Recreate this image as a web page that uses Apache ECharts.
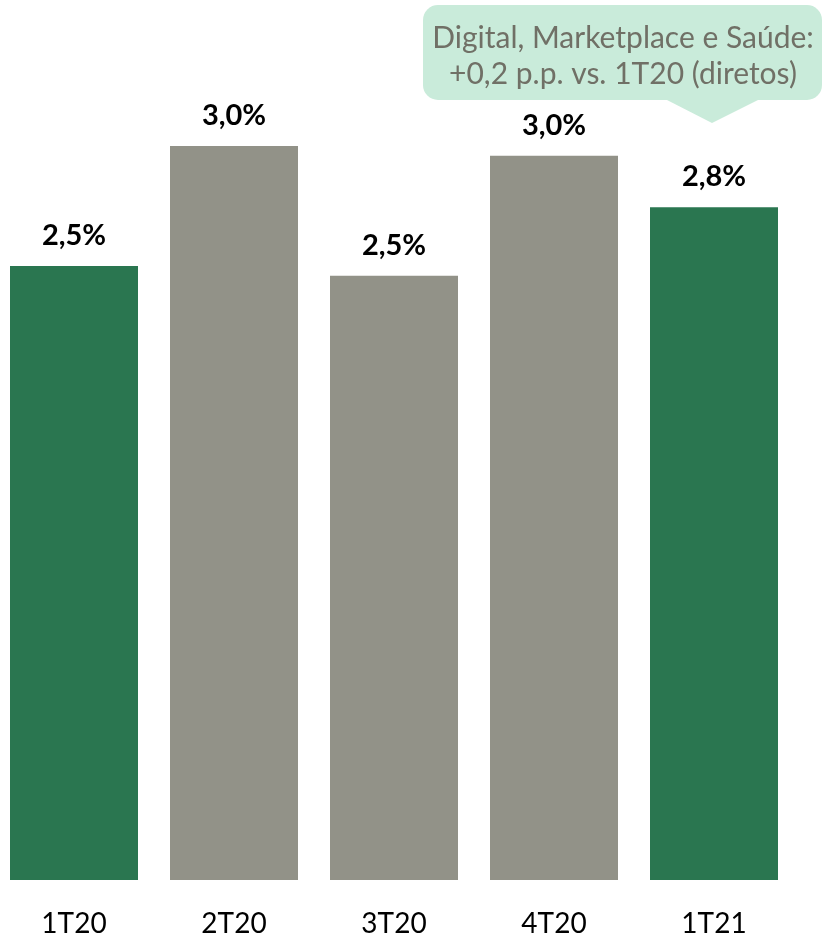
<!DOCTYPE html>
<html>
<head>
<meta charset="utf-8">
<script src="https://cdn.jsdelivr.net/npm/echarts@6/dist/echarts.min.js"></script>
<style>
html,body{margin:0;padding:0;background:#fff;}
#chart{width:825px;height:933px;}
</style>
</head>
<body>
<div id="chart"></div>
<script>
var categories = ['1T20', '2T20', '3T20', '4T20', '1T21'];
var values = [2.51, 3.0, 2.47, 2.96, 2.75];
var calloutLines = ['Digital, Marketplace e Saúde:', '+0,2 p.p. vs. 1T20 (diretos)'];

var GREEN = '#2A7650';
var GRAY = '#929288';
var barColors = [GREEN, GRAY, GRAY, GRAY, GREEN];
var FONT = 'Lato';

var chart = echarts.init(document.getElementById('chart'));
chart.setOption({
  animation: false,
  backgroundColor: '#ffffff',
  grid: { left: -6, width: 800, top: 146, bottom: 53, containLabel: false, outerBoundsMode: 'none' },
  xAxis: {
    type: 'category',
    data: categories,
    axisLine: { show: false },
    axisTick: { show: false },
    axisLabel: { color: '#000', fontFamily: FONT, fontSize: 28, margin: 30 }
  },
  yAxis: {
    type: 'value', min: 0, max: 3.0,
    show: false, splitLine: { show: false }
  },
  series: [{
    type: 'bar',
    data: values,
    barCategoryGap: '20%',
    itemStyle: { color: function (p) { return barColors[p.dataIndex]; } },
    label: {
      show: true, position: 'top', distance: 16,
      color: '#000', fontFamily: FONT, fontWeight: 'bold', fontSize: 29,
      formatter: function (p) { return p.value.toFixed(1).replace('.', ',') + '%'; }
    }
  }],
  graphic: [{
    type: 'group',
    children: [
      { type: 'rect', shape: { x: 423, y: 5, width: 399, height: 95, r: 15 }, style: { fill: '#C9EBDA' } },
      { type: 'polygon', shape: { points: [[665, 99], [760, 99], [712, 123]] }, style: { fill: '#C9EBDA' } },
      { type: 'text', style: { x: 623, y: 38, text: calloutLines[0], align: 'center', verticalAlign: 'middle', fill: '#707066', font: '30px Lato' } },
      { type: 'text', style: { x: 623, y: 74, text: calloutLines[1], align: 'center', verticalAlign: 'middle', fill: '#707066', font: '30px Lato' } }
    ]
  }]
});
</script>
</body>
</html>
